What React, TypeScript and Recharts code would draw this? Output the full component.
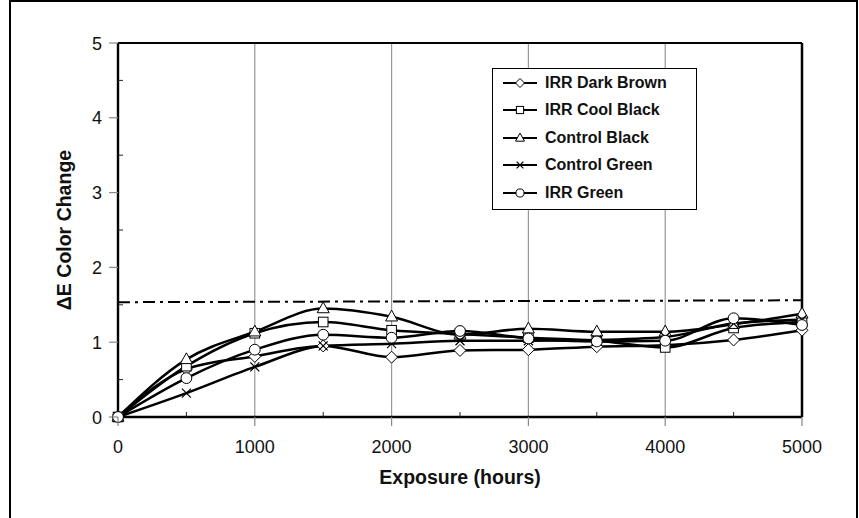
import React from 'react';
import { LineChart, Line, XAxis, YAxis, ReferenceLine, Legend } from 'recharts';

const hours = [0, 500, 1000, 1500, 2000, 2500, 3000, 3500, 4000, 4500, 5000];
const darkBrown = [0, 0.64, 0.81, 0.95, 0.8, 0.89, 0.9, 0.94, 0.96, 1.03, 1.16];
const coolBlack = [0, 0.68, 1.12, 1.27, 1.16, 1.11, 1.06, 1.02, 0.93, 1.19, 1.27];
const controlBlack = [0, 0.77, 1.14, 1.45, 1.34, 1.1, 1.18, 1.14, 1.14, 1.24, 1.38];
const controlGreen = [0, 0.32, 0.67, 0.95, 0.98, 1.02, 1.02, 1.03, 1.07, 1.25, 1.3];
const irrGreen = [0, 0.52, 0.9, 1.1, 1.06, 1.15, 1.05, 1.01, 1.02, 1.32, 1.23];

const xTicks = [0, 500, 1000, 1500, 2000, 2500, 3000, 3500, 4000, 4500, 5000];
const xMajor = [0, 1000, 2000, 3000, 4000, 5000];
const gridX = [1000, 2000, 3000, 4000];
const yTicks = [0, 0.5, 1, 1.5, 2, 2.5, 3, 3.5, 4, 4.5, 5];
const yMajor = [0, 1, 2, 3, 4, 5];
const limitLine = [1.535, 1.56];

type Shape = 'diamond' | 'square' | 'triangle' | 'cross' | 'circle';

const series: { key: string; name: string; values: number[]; shape: Shape }[] = [
  { key: 'darkBrown', name: 'IRR Dark Brown', values: darkBrown, shape: 'diamond' },
  { key: 'coolBlack', name: 'IRR Cool Black', values: coolBlack, shape: 'square' },
  { key: 'controlBlack', name: 'Control Black', values: controlBlack, shape: 'triangle' },
  { key: 'controlGreen', name: 'Control Green', values: controlGreen, shape: 'cross' },
  { key: 'irrGreen', name: 'IRR Green', values: irrGreen, shape: 'circle' },
];

const data = hours.map((h, i) => {
  const row: Record<string, number> = { hours: h };
  series.forEach((s) => {
    row[s.key] = s.values[i];
  });
  return row;
});

const FONT = '"Liberation Sans", Arial, sans-serif';

function marker(shape: Shape, cx: number, cy: number, r: number, key?: string | number) {
  const common = { fill: '#fff', stroke: '#000', strokeWidth: 1 };
  switch (shape) {
    case 'diamond':
      return (
        <polygon key={key} points={`${cx},${cy - r} ${cx + r},${cy} ${cx},${cy + r} ${cx - r},${cy}`} {...common} />
      );
    case 'square':
      return <rect key={key} x={cx - r * 0.8} y={cy - r * 0.8} width={r * 1.6} height={r * 1.6} {...common} />;
    case 'triangle':
      return (
        <polygon
          key={key}
          points={`${cx},${cy - r * 1.1} ${cx + r},${cy + r * 0.7} ${cx - r},${cy + r * 0.7}`}
          {...common}
        />
      );
    case 'cross':
      return (
        <g key={key} stroke="#000" strokeWidth={1.2}>
          <line x1={cx - r * 0.75} y1={cy - r * 0.75} x2={cx + r * 0.75} y2={cy + r * 0.75} />
          <line x1={cx - r * 0.75} y1={cy + r * 0.75} x2={cx + r * 0.75} y2={cy - r * 0.75} />
        </g>
      );
    default:
      return <circle key={key} cx={cx} cy={cy} r={r * 0.9} {...common} />;
  }
}

const XTick = (props: any) => {
  const { x, y, payload } = props;
  const v = payload.value;
  if (xMajor.includes(v)) {
    return (
      <g>
        <line x1={x} y1={y} x2={x} y2={y + 9} stroke="#888" strokeWidth={1.2} />
        <text x={x} y={y + 36} textAnchor="middle" fontSize={18} fontFamily={FONT} fill="#111">
          {v}
        </text>
      </g>
    );
  }
  return <line x1={x} y1={y} x2={x} y2={y - 5} stroke="#222" strokeWidth={1} />;
};

const YTick = (props: any) => {
  const { x, y, payload } = props;
  const v = payload.value;
  if (yMajor.includes(v)) {
    return (
      <g>
        <line x1={x - 9} y1={y} x2={x} y2={y} stroke="#888" strokeWidth={1.2} />
        <text x={x - 16} y={y + 6.5} textAnchor="end" fontSize={18} fontFamily={FONT} fill="#111">
          {v}
        </text>
      </g>
    );
  }
  return <line x1={x} y1={y} x2={x + 5} y2={y} stroke="#222" strokeWidth={1} />;
};

const LegendBox = () => (
  <div
    style={{
      border: '1.5px solid #000',
      background: '#fff',
      width: 205,
      height: 142,
      boxSizing: 'border-box',
    }}
  >
    {series.map((s) => (
      <div key={s.key} style={{ height: 27.5, display: 'flex', alignItems: 'center' }}>
        <svg width={52} height={20} style={{ flex: 'none' }}>
          <line x1={10} y1={10} x2={44} y2={10} stroke="#000" strokeWidth={2} />
          {marker(s.shape, 27, 10, 4.5)}
        </svg>
        <span style={{ fontFamily: FONT, fontWeight: 'bold', fontSize: 16, color: '#111' }}>{s.name}</span>
      </div>
    ))}
  </div>
);

export default function App() {
  return (
    <div style={{ position: 'fixed', left: 0, top: 0, width: 859, height: 518, overflow: 'hidden', background: '#fff' }}>
      <div
        style={{
          position: 'absolute',
          left: 9,
          top: 0,
          width: 849,
          height: 530,
          borderTop: '2px solid #000',
          borderLeft: '2px solid #000',
          borderRight: '2px solid #000',
          boxSizing: 'border-box',
        }}
      />
      <div style={{ position: 'absolute', left: 0, top: 0 }}>
        <LineChart width={859} height={518} data={data} margin={{ top: 43, right: 57, bottom: 0, left: 58 }}>
          <XAxis
            dataKey="hours"
            type="number"
            domain={[0, 5000]}
            ticks={xTicks}
            interval={0}
            tickSize={0}
            tickMargin={0}
            tickLine={false}
            axisLine={{ stroke: '#000', strokeWidth: 2.4 }}
            tick={<XTick />}
            height={101}
            label={{
              value: 'Exposure (hours)',
              position: 'insideTop',
              offset: 53,
              style: { fontFamily: FONT, fontWeight: 'bold', fontSize: 19.5, fill: '#111' },
            }}
          />
          <YAxis
            type="number"
            domain={[0, 5]}
            ticks={yTicks}
            interval={0}
            tickSize={0}
            tickMargin={0}
            tickLine={false}
            axisLine={{ stroke: '#000', strokeWidth: 2.4 }}
            tick={<YTick />}
            width={60}
            label={{
              value: 'ΔE Color Change',
              angle: -90,
              position: 'insideLeft',
              offset: 0,
              dx: 6,
              style: { fontFamily: FONT, fontWeight: 'bold', fontSize: 19.5, fill: '#111', textAnchor: 'middle' },
            }}
          />
          {gridX.map((v) => (
            <ReferenceLine key={`g${v}`} x={v} stroke="#999" strokeWidth={1.2} />
          ))}
          <ReferenceLine y={5} stroke="#000" strokeWidth={2} />
          <ReferenceLine x={5000} stroke="#000" strokeWidth={2.5} />
          <ReferenceLine
            segment={[
              { x: 0, y: limitLine[0] },
              { x: 5000, y: limitLine[1] },
            ]}
            stroke="#000"
            strokeWidth={2}
            strokeDasharray="12 5 3 5"
          />
          <Legend
            layout="horizontal"
            verticalAlign="middle"
            align="center"
            content={<LegendBox />}
            wrapperStyle={{ position: 'absolute', left: 492, top: 68, width: 206, height: 143 }}
          />
          {series.map((s) => (
            <Line
              key={s.key}
              dataKey={s.key}
              name={s.name}
              type="monotone"
              stroke="#000"
              strokeWidth={2.5}
              isAnimationActive={false}
              dot={(p: any) => marker(s.shape, p.cx, p.cy, 6, `${s.key}-${p.index}`)}
              activeDot={false}
            />
          ))}
        </LineChart>
      </div>
    </div>
  );
}
